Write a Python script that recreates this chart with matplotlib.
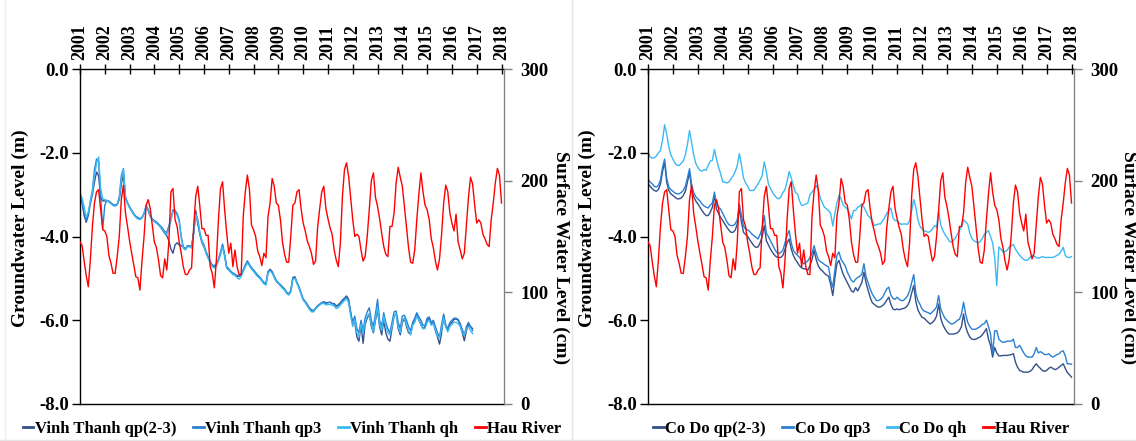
import matplotlib
matplotlib.use("Agg")
import matplotlib.pyplot as plt
from matplotlib.lines import Line2D
import numpy as np

plt.rcParams['font.family'] = ['Liberation Serif', 'DejaVu Serif']
plt.rcParams['font.weight'] = 'bold'

# monthly values, Jan 2001 onwards
hau_river = [
    145, 142, 128, 115, 105, 129, 159, 180, 190, 192, 174, 156,  # 2001
    155, 150, 133, 126, 117, 117, 132, 150, 183, 196, 171, 159,  # 2002
    146, 135, 125, 114, 113, 102, 128, 150, 178, 183, 175, 160,  # 2003
    145, 140, 129, 115, 113, 130, 120, 145, 190, 193, 165, 159,  # 2004
    145, 135, 123, 116, 116, 120, 122, 158, 186, 195, 177, 157,  # 2005
    157, 151, 151, 123, 117, 104, 129, 165, 193, 199, 174, 153,  # 2006
    135, 144, 123, 138, 123, 116, 116, 168, 190, 205, 192, 160,  # 2007
    156, 150, 137, 132, 124, 135, 131, 168, 180, 202, 195, 180,  # 2008
    178, 165, 145, 134, 127, 127, 150, 178, 180, 190, 192, 175,  # 2009
    162, 155, 146, 141, 135, 125, 128, 158, 175, 190, 195, 175,  # 2010
    166, 158, 152, 138, 129, 123, 144, 186, 210, 216, 204, 184,  # 2011
    165, 150, 152, 150, 138, 128, 132, 150, 174, 200, 207, 185,  # 2012
    177, 166, 153, 141, 134, 132, 159, 159, 171, 198, 212, 203,  # 2013
    195, 177, 158, 140, 127, 126, 138, 165, 188, 207, 190, 178,  # 2014
    174, 165, 148, 140, 128, 120, 130, 152, 180, 196, 190, 171,  # 2015
    162, 155, 170, 145, 138, 130, 135, 160, 185, 203, 197, 178,  # 2016
    162, 165, 162, 152, 148, 143, 141, 165, 180, 198, 211, 205,  # 2017
    180,                                                         # 2018
]

vt_qp23 = [
    -3.0, -3.2, -3.5, -3.66, -3.5, -3.22, -3.0, -2.7, -2.46, -2.55, -3.05, -3.15,
    -3.15, -3.14, -3.16, -3.2, -3.24, -3.26, -3.24, -3.12, -2.75, -2.5, -3.05, -3.2,
    -3.3, -3.38, -3.46, -3.52, -3.55, -3.58, -3.55, -3.45, -3.3, -3.38, -3.52, -3.6,
    -3.64, -3.68, -3.72, -3.78, -3.85, -3.92, -3.98, -4.1, -4.3, -4.4, -4.2, -4.15,
    -4.2, -4.22, -4.25, -4.3, -4.24, -4.22, -4.25, -3.9, -3.38, -3.7, -3.95, -4.15,
    -4.25, -4.38, -4.5, -4.6, -4.7, -4.72, -4.67, -4.56, -4.4, -4.22, -4.45, -4.75,
    -4.8, -4.85, -4.9, -4.92, -4.95, -4.95, -4.92, -4.82, -4.7, -4.6, -4.68, -4.76,
    -4.82, -4.88, -4.94, -4.98, -5.05, -5.12, -5.14, -4.84, -4.78, -4.84, -4.96, -5.06,
    -5.12, -5.16, -5.22, -5.27, -5.35, -5.38, -5.3, -4.98, -4.96, -5.1, -5.22, -5.36,
    -5.5, -5.56, -5.64, -5.72, -5.77, -5.79, -5.72, -5.66, -5.62, -5.58, -5.56, -5.58,
    -5.58, -5.57, -5.6, -5.6, -5.66, -5.63, -5.58, -5.52, -5.47, -5.42, -5.5, -5.8,
    -6.1, -6.05, -6.4, -6.5, -6.1, -6.55, -6.1, -5.95, -5.85, -6.15, -6.3, -6.0,
    -5.75, -6.15, -6.35, -6.0, -6.3, -6.45, -6.5, -6.2, -5.9, -5.85, -6.2, -6.35,
    -6.05, -5.95, -6.15, -6.3, -6.33, -6.1, -6.0, -5.85, -6.0, -6.1, -6.2, -6.15,
    -6.0, -5.95, -6.1, -6.05, -6.25, -6.4, -6.57, -6.3, -5.9, -6.15, -6.25, -6.1,
    -6.05, -5.98, -5.97, -6.0, -6.1, -6.3, -6.49, -6.25, -6.1, -6.15, -6.2,
]

vt_qp3 = [
    -2.98, -3.15, -3.45, -3.62, -3.45, -3.15, -2.9, -2.4, -2.15, -2.2, -3.05, -3.82,
    -3.25, -3.14, -3.16, -3.2, -3.24, -3.26, -3.22, -3.05, -2.55, -2.38, -3.1, -3.2,
    -3.3, -3.38, -3.46, -3.52, -3.55, -3.58, -3.55, -3.45, -3.25, -3.35, -3.5, -3.58,
    -3.62, -3.65, -3.7, -3.75, -3.8, -3.88, -3.9, -3.75, -3.55, -3.36, -3.38, -3.45,
    -3.6, -4.0, -4.25, -4.3, -4.22, -4.22, -4.25, -3.9, -3.45, -3.6, -3.9, -4.1,
    -4.2, -4.36, -4.48, -4.6, -4.68, -4.7, -4.65, -4.55, -4.38, -4.18, -4.43, -4.72,
    -4.77, -4.83, -4.87, -4.9, -4.93, -4.93, -4.9, -4.8, -4.68, -4.58, -4.67, -4.74,
    -4.8, -4.86, -4.92, -4.97, -5.03, -5.1, -5.12, -4.85, -4.8, -4.85, -4.95, -5.05,
    -5.1, -5.15, -5.2, -5.25, -5.33, -5.37, -5.3, -5.0, -4.98, -5.1, -5.2, -5.35,
    -5.49, -5.55, -5.62, -5.7, -5.75, -5.77, -5.71, -5.66, -5.62, -5.58, -5.57, -5.6,
    -5.58, -5.57, -5.6, -5.62, -5.68, -5.65, -5.6, -5.55, -5.5, -5.45, -5.55, -5.85,
    -6.05, -5.9, -6.2, -6.3, -6.0, -6.25, -5.95, -5.8, -5.7, -6.0, -6.15, -5.85,
    -5.5, -6.0, -6.15, -5.82, -6.05, -6.2, -6.3, -6.05, -5.8, -5.78, -6.05, -6.2,
    -5.9, -5.88, -6.0, -6.15, -6.25, -6.05, -5.95, -5.82, -5.92, -6.0, -6.12, -6.12,
    -5.95, -5.92, -6.05, -6.0, -6.15, -6.3, -6.4, -6.1, -5.85, -6.1, -6.2, -6.05,
    -6.0, -5.95, -5.95, -5.98, -6.08, -6.22, -6.35, -6.15, -6.05, -6.15, -6.25,
]

vt_qh = [
    -2.96, -3.08, -3.3, -3.55, -3.42, -3.18, -2.95, -2.55, -2.25, -2.1, -2.85, -3.1,
    -3.12, -3.14, -3.18, -3.22, -3.26, -3.28, -3.24, -3.1, -2.65, -2.4, -3.05, -3.22,
    -3.32, -3.4, -3.48, -3.54, -3.58, -3.6, -3.56, -3.45, -3.28, -3.38, -3.52, -3.6,
    -3.64, -3.68, -3.72, -3.78, -3.83, -3.9, -3.95, -3.82, -3.62, -3.4, -3.42, -3.5,
    -3.65, -4.05, -4.28, -4.32, -4.25, -4.24, -4.28, -3.95, -3.48, -3.62, -3.92, -4.12,
    -4.25, -4.4, -4.52, -4.63, -4.72, -4.75, -4.7, -4.58, -4.43, -4.25, -4.48, -4.76,
    -4.8, -4.86, -4.9, -4.93, -4.98, -5.02, -4.96, -4.84, -4.72, -4.63, -4.7, -4.78,
    -4.83, -4.9, -4.96, -5.0, -5.06, -5.13, -5.16, -4.88, -4.82, -4.88, -4.98, -5.08,
    -5.12, -5.18, -5.24, -5.28, -5.36, -5.4, -5.33, -5.03, -5.0, -5.12, -5.24, -5.38,
    -5.52, -5.58, -5.66, -5.74, -5.8, -5.8, -5.73, -5.68, -5.64, -5.6, -5.6, -5.63,
    -5.63, -5.62, -5.64, -5.66, -5.72, -5.7, -5.64, -5.58, -5.53, -5.48, -5.58, -5.9,
    -6.15, -5.98, -6.3, -6.4, -6.1, -6.32, -6.05, -5.9, -5.85, -6.1, -6.28, -5.96,
    -5.7, -6.1, -6.25, -5.9, -6.15, -6.3, -6.35, -6.15, -5.9, -5.85, -6.15, -6.3,
    -6.0, -5.95, -6.1, -6.25, -6.35, -6.12, -6.05, -5.9, -6.0, -6.12, -6.2, -6.2,
    -6.05, -6.0, -6.12, -6.08, -6.22, -6.38, -6.42, -6.2, -5.95, -6.15, -6.28, -6.15,
    -6.1, -6.05, -6.05, -6.08, -6.15, -6.3, -6.35, -6.22, -6.15, -6.25, -6.32,
]

cd_qp23 = [
    -2.74, -2.8, -2.86, -2.9, -2.92, -2.88, -2.75, -2.45, -2.22, -2.7, -2.9, -2.98,
    -3.02, -3.06, -3.1, -3.1, -3.08, -3.02, -2.92, -2.7, -2.46, -2.85, -3.05, -3.15,
    -3.22, -3.3, -3.38, -3.45, -3.5, -3.5, -3.42, -3.3, -3.02, -3.35, -3.45, -3.55,
    -3.62, -3.7, -3.78, -3.85, -3.9, -3.9, -3.85, -3.7, -3.34, -3.65, -3.9, -3.95,
    -4.0, -4.08, -4.15, -4.22, -4.26, -4.25, -4.15, -4.0, -3.74, -4.1, -4.2, -4.3,
    -4.38, -4.45, -4.49, -4.5, -4.5, -4.45, -4.3, -4.15, -4.06, -4.3, -4.45, -4.55,
    -4.62, -4.7, -4.75, -4.77, -4.78, -4.8, -4.7, -4.55, -4.33, -4.55, -4.7, -4.78,
    -4.82, -4.88, -4.92, -4.95, -5.15, -5.41, -5.0, -4.65, -4.57, -4.75, -4.9, -5.0,
    -5.1, -5.2, -5.3, -5.33, -5.22, -5.3, -5.2, -5.1, -4.85, -5.1, -5.28, -5.45,
    -5.58, -5.62, -5.66, -5.69, -5.68, -5.65, -5.6, -5.52, -5.45, -5.62, -5.73, -5.75,
    -5.73, -5.75, -5.73, -5.72, -5.7, -5.65, -5.55, -5.35, -5.17, -5.55, -5.75, -5.85,
    -5.93, -5.95, -6.0, -6.05, -6.09, -6.05, -6.0, -5.9, -5.61, -5.95, -6.1, -6.2,
    -6.28, -6.33, -6.33, -6.33, -6.32, -6.3, -6.25, -6.15, -5.85, -6.15, -6.3, -6.4,
    -6.45, -6.46, -6.45, -6.42, -6.4, -6.35, -6.28, -6.2, -6.45, -6.6, -6.88, -6.65,
    -6.78, -6.85, -6.85, -6.84, -6.84, -6.84, -6.83, -6.82, -6.8, -7.0, -7.12, -7.2,
    -7.22, -7.24, -7.24, -7.24, -7.22, -7.18, -7.1, -7.04, -7.1, -7.15, -7.2, -7.22,
    -7.2, -7.15, -7.12, -7.15, -7.18, -7.16, -7.12, -7.08, -7.04, -7.15, -7.25, -7.3,
    -7.36,
]

cd_qp3 = [
    -2.62, -2.7, -2.74, -2.8, -2.82, -2.78, -2.65, -2.35, -2.15, -2.6, -2.82, -2.88,
    -2.92, -2.96, -2.98, -2.98, -2.95, -2.9, -2.8, -2.6, -2.38, -2.75, -2.95, -3.05,
    -3.1, -3.15, -3.22, -3.27, -3.3, -3.32, -3.25, -3.2, -2.94, -3.25, -3.3, -3.35,
    -3.45, -3.55, -3.65, -3.72, -3.74, -3.74, -3.7, -3.6, -3.22, -3.5, -3.75, -3.82,
    -3.84, -3.88, -3.94, -3.98, -4.02, -4.06, -3.95, -3.8, -3.5, -3.92, -4.0, -4.1,
    -4.2, -4.3, -4.38, -4.41, -4.38, -4.32, -4.15, -3.98, -3.86, -4.15, -4.33, -4.4,
    -4.45, -4.5, -4.58, -4.65, -4.62, -4.58, -4.5, -4.4, -4.22, -4.4, -4.55, -4.6,
    -4.63, -4.67, -4.7, -4.73, -5.05, -5.21, -4.8, -4.45, -4.37, -4.55, -4.62, -4.7,
    -4.85, -4.95, -5.05, -5.09, -5.02, -4.98, -4.95, -4.9, -4.65, -4.95, -5.1, -5.25,
    -5.37, -5.45, -5.53, -5.53, -5.5, -5.45, -5.35, -5.25, -5.21, -5.4, -5.48, -5.5,
    -5.45, -5.5, -5.53, -5.53, -5.48, -5.42, -5.3, -5.1, -4.91, -5.35, -5.53, -5.62,
    -5.73, -5.78, -5.8, -5.82, -5.85, -5.8, -5.75, -5.68, -5.41, -5.73, -5.85, -5.95,
    -6.0, -6.05, -6.09, -6.08, -6.05, -6.0, -5.98, -5.85, -5.57, -5.85, -6.05, -6.15,
    -6.21, -6.22, -6.21, -6.18, -6.15, -6.1, -6.08, -6.0, -6.15, -6.33, -6.8, -6.25,
    -6.25, -6.45, -6.5, -6.53, -6.52, -6.5, -6.5, -6.5, -6.45, -6.65, -6.65, -6.6,
    -6.69, -6.78, -6.85, -6.88, -6.88, -6.88, -6.8, -6.65, -6.78, -6.75, -6.78, -6.82,
    -6.82, -6.8, -6.85, -6.88, -6.85, -6.82, -6.8, -6.75, -6.73, -6.85, -7.04, -7.04,
    -7.05,
]

cd_qh = [
    -1.98, -2.1, -2.13, -2.12, -2.08, -2.0, -1.95, -1.7, -1.33, -1.55, -1.85, -2.05,
    -2.15, -2.25, -2.3, -2.3, -2.25, -2.2, -2.05, -1.8, -1.47, -1.75, -2.05, -2.25,
    -2.35, -2.42, -2.44, -2.4, -2.42, -2.3, -2.2, -2.18, -1.92, -2.15, -2.35, -2.5,
    -2.7, -2.7, -2.72, -2.7, -2.62, -2.55, -2.45, -2.3, -2.02, -2.3, -2.6, -2.72,
    -2.8, -2.9, -2.9, -2.9, -2.82, -2.75, -2.65, -2.55, -2.22, -2.45, -2.75, -2.85,
    -2.95, -3.02, -3.08, -3.1, -3.05, -2.95, -2.88, -2.68, -2.45, -2.6, -2.78, -2.95,
    -2.98, -3.15, -3.26, -3.25, -3.22, -3.2, -3.0, -2.94, -2.88, -2.78, -2.88, -3.08,
    -3.2, -3.3, -3.34, -3.38, -3.45, -3.75, -3.45, -3.2, -3.02, -3.1, -3.25, -3.3,
    -3.34, -3.45, -3.58, -3.38, -3.38, -3.3, -3.28, -3.22, -3.3, -3.4, -3.5, -3.55,
    -3.62, -3.74, -3.72, -3.7, -3.7, -3.62, -3.55, -3.45, -3.38, -3.32, -3.55, -3.62,
    -3.62, -3.68, -3.71, -3.7, -3.7, -3.71, -3.62, -3.38, -3.12, -3.3, -3.6, -3.75,
    -3.82, -3.86, -3.88, -3.9, -3.88, -3.82, -3.74, -3.78, -3.4, -3.72, -3.85, -3.95,
    -4.02, -4.1, -4.14, -4.1, -4.04, -3.95, -3.85, -3.78, -3.6, -3.65, -3.7, -3.92,
    -4.05, -4.1, -4.13, -4.15, -4.12, -4.05, -3.95, -3.9, -3.86, -4.0, -4.15, -4.5,
    -5.17, -4.25, -4.3, -4.37, -4.36, -4.33, -4.25, -4.22, -4.19, -4.3, -4.38, -4.45,
    -4.5, -4.55, -4.57, -4.56, -4.5, -4.45, -4.47, -4.5, -4.52, -4.5, -4.48, -4.5,
    -4.5, -4.5, -4.5, -4.5, -4.48, -4.45, -4.42, -4.35, -4.26, -4.45, -4.5, -4.5,
    -4.48,
]

years = list(range(2001, 2019))
colors = ['#34508A', '#2A80D2', '#3CBAF2']
river_color = '#FF0000'

fig = plt.figure(figsize=(11.36, 4.41), dpi=100)

# faint cell borders around the two panels
fig.add_artist(Line2D([572 / 1136, 572 / 1136], [0, 1], color='#E4E4E4', lw=1))
fig.add_artist(Line2D([5 / 1136, 5 / 1136], [0, 1], color='#EEEEEE', lw=1))
fig.add_artist(Line2D([0, 1], [1.5 / 441, 1.5 / 441], color='#E4E4E4', lw=1))


def draw_panel(rect, series, names, ylab_x, y2lab_x):
    ax = fig.add_axes(rect)
    ax2 = ax.twinx()
    handles = []
    for vals, name, c in zip(series, names, colors):
        t = 2001 + np.arange(len(vals)) / 12
        h, = ax.plot(t, vals, color=c, lw=1.0, label=name)
        handles.append(h)
    t = 2001 + np.arange(len(hau_river)) / 12
    h, = ax2.plot(t, hau_river, color=river_color, lw=1.0, label='Hau River')
    handles.append(h)

    ax.set_xlim(2001, 2018.1)
    ax.set_ylim(-8, 0)
    ax.set_yticks([0, -2, -4, -6, -8])
    ax.set_yticklabels(['0.0', '-2.0', '-4.0', '-6.0', '-8.0'])
    ax2.set_ylim(0, 300)
    ax2.set_yticks([0, 100, 200, 300])

    ax.xaxis.tick_top()
    ax.set_xticks(years)
    ax.set_xticklabels([str(y) for y in years], rotation=90, fontsize=13)
    ax.tick_params(axis='x', direction='inout', length=7, width=1, pad=3)
    ax.tick_params(axis='y', direction='out', length=6, width=1, labelsize=13.5, pad=2)
    ax2.tick_params(axis='y', direction='out', length=6, width=1, labelsize=13.5, pad=6,
                    color='#808080')
    for s in ['left', 'top', 'bottom']:
        ax.spines[s].set_linewidth(1.0)
    ax2.spines['right'].set_color('#808080')
    for s in ['left', 'top', 'bottom']:
        ax2.spines[s].set_visible(False)

    fig.text(ylab_x / 1136, 1 - 228 / 441, 'Groundwater Level (m)', rotation=90,
             ha='center', va='center', fontsize=14, fontweight='bold')
    fig.text(y2lab_x / 1136, 1 - 258 / 441, 'Surface Water Level (cm)', rotation=270,
             ha='center', va='center', fontsize=14, fontweight='bold')

    leg = ax.legend(handles=handles, loc='upper center', bbox_to_anchor=(0.5, -0.03),
                    ncol=4, frameon=False, fontsize=12, handlelength=0.65,
                    handletextpad=0.08, columnspacing=1.0, borderaxespad=0)
    for line in leg.get_lines():
        line.set_linewidth(2.0)
    return ax


draw_panel([80 / 1136, 1 - 404 / 441, 424 / 1136, 335 / 441],
           [vt_qp23, vt_qp3, vt_qh],
           ['Vinh Thanh qp(2-3)', 'Vinh Thanh qp3', 'Vinh Thanh qh'], 20, 561)
draw_panel([648 / 1136, 1 - 404 / 441, 426 / 1136, 335 / 441],
           [cd_qp23, cd_qp3, cd_qh],
           ['Co Do qp(2-3)', 'Co Do qp3', 'Co Do qh'], 587, 1129)

fig.savefig('out.png', dpi=100)
